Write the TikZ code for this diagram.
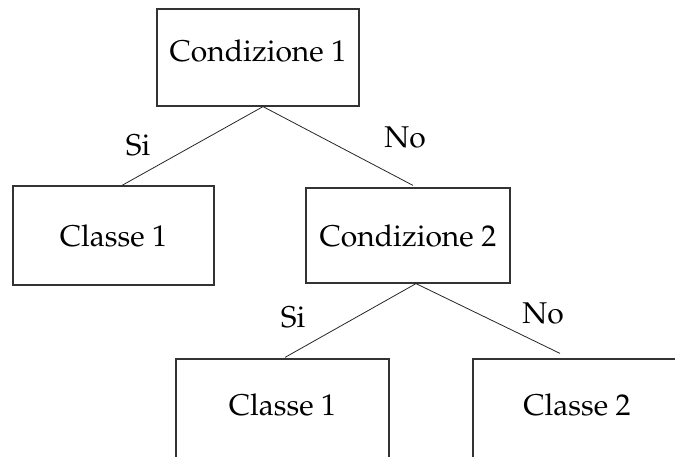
\documentclass[tikz,border=0pt]{standalone}
\usepackage[T1]{fontenc}
\usepackage{mathpazo}
\usepackage{xcolor}
\usepackage{tikz}
\usetikzlibrary{positioning}

\begin{document}
\begin{tikzpicture}[
        x=1pt, y=-1pt,
        box/.style={rectangle, draw=black!80, line width=1.2pt, inner sep=0pt, text centered, font=\fontsize{30}{36}\selectfont},
        answer/.style={inner sep=0pt, font=\fontsize{30}{36}\selectfont},
        branch/.style={line width=0.8pt, black!85}
        ]
        \useasboundingbox (0,0) rectangle (675,456);
        \clip (0,0) rectangle (675,456);

        % Root: first condition
        \node (cond1) [box, minimum width=202pt, minimum height=97pt, text height=21pt, text depth=13pt] at (258,57.5) {Condizione 1};

        % Second level
        \node (cls1a) [box, minimum width=201pt, minimum height=99pt] at (113.5,235.5) {Classe 1};
        \node (cond2) [box, minimum width=204pt, minimum height=95pt] at (408,235.5) {Condizione 2};

        \draw [branch] ([xshift=5pt]cond1.south) -- ([xshift=8.5pt]cls1a.north);
        \draw [branch] ([xshift=5pt]cond1.south) -- ([xshift=5pt,yshift=2pt]cond2.north);

        \node (si1) [answer] at (138,145) {Si};
        \node (no1) [answer] at (405,137) {No};

        % Third level (cut off at the bottom)
        \node (cls1b) [box, minimum width=213pt, minimum height=100pt, text height=21pt, text depth=8pt] at (282.5,409) {Classe 1};
        \node (cls2) [box, minimum width=208pt, minimum height=100pt, text height=21pt, text depth=8pt] at (577,409) {Classe 2};

        \draw [branch] ([xshift=8pt]cond2.south) -- ([xshift=2.5pt,yshift=1pt]cls1b.north);
        \draw [branch] ([xshift=8pt]cond2.south) -- ([xshift=-17pt,yshift=5pt]cls2.north);

        \node (si2) [answer] at (293,317) {Si};
        \node (no2) [answer] at (543,313) {No};

    \end{tikzpicture}
\end{document}
